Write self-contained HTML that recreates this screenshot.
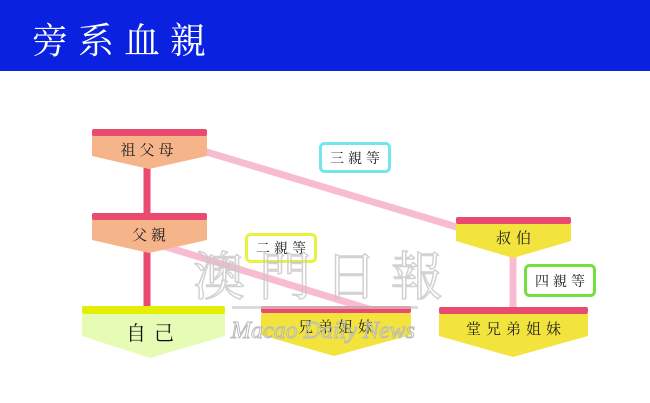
<!DOCTYPE html>
<html><head><meta charset="utf-8"><style>
html,body{margin:0;padding:0;width:650px;height:403px;overflow:hidden;background:#fff}
svg{display:block}
text{font-family:"Liberation Serif","Noto Serif CJK SC","Noto Sans CJK TC",serif}
</style></head><body>
<svg width="650" height="403" viewBox="0 0 650 403">
<rect x="0" y="0" width="650" height="71" fill="#0a22e0"/>
<text x="32" y="53" font-size="36" fill="#fff" letter-spacing="10">旁系血親</text>

<!-- connectors -->
<line x1="200" y1="150" x2="460" y2="228" stroke="#f8bcd2" stroke-width="7"/>
<line x1="160" y1="245" x2="372" y2="310" stroke="#f8bcd2" stroke-width="7"/>
<line x1="513" y1="255" x2="513" y2="308" stroke="#f8bcd2" stroke-width="7"/>
<line x1="147" y1="160" x2="147" y2="215" stroke="#e84a70" stroke-width="7"/>
<line x1="147" y1="245" x2="147" y2="308" stroke="#e84a70" stroke-width="7"/>

<!-- 祖父母 -->
<path d="M92,135 H207 V156 L149,169 L92,156 Z" fill="#f6b48a"/>
<rect x="92" y="129" width="115" height="7" rx="2" fill="#e84a70"/>
<text x="149" y="155" font-size="15" text-anchor="middle" fill="#222" letter-spacing="4">祖父母</text>

<!-- 父親 -->
<path d="M92,219 H207 V240 L149,253 L92,240 Z" fill="#f6b48a"/>
<rect x="92" y="213" width="115" height="7" rx="2" fill="#e84a70"/>
<text x="151" y="240" font-size="15" text-anchor="middle" fill="#222" letter-spacing="4">父親</text>

<!-- 自己 -->
<path d="M82,314 H225 V336 L150,358 L82,336 Z" fill="#e6fcb4"/>
<rect x="82" y="306" width="143" height="8" rx="2" fill="#e4ee00"/>
<text x="154" y="340" font-size="20" text-anchor="middle" fill="#111" letter-spacing="8">自己</text>

<!-- 兄弟姐妹 -->
<path d="M261,313 H411 V335 L334,356 L261,335 Z" fill="#f2e43c"/>
<rect x="261" y="306" width="150" height="7" rx="2" fill="#e84a70"/>
<text x="338" y="332" font-size="15" text-anchor="middle" fill="#222" letter-spacing="5">兄弟姐妹</text>

<!-- 叔伯 -->
<path d="M456,224 H571 V241 L513,258 L456,241 Z" fill="#f2e43c"/>
<rect x="456" y="217" width="115" height="7" rx="2" fill="#e84a70"/>
<text x="516" y="243" font-size="15" text-anchor="middle" fill="#222" letter-spacing="5">叔伯</text>

<!-- 堂兄弟姐妹 -->
<path d="M439,314 H588 V336 L513,357 L439,336 Z" fill="#f2e43c"/>
<rect x="439" y="307" width="149" height="7" rx="2" fill="#e84a70"/>
<text x="516" y="334" font-size="15" text-anchor="middle" fill="#222" letter-spacing="5">堂兄弟姐妹</text>

<!-- labels -->
<rect x="320.5" y="143.5" width="69" height="28" rx="4" fill="#fff" stroke="#72e6ea" stroke-width="3"/>
<text x="357" y="163" font-size="14" text-anchor="middle" fill="#222" letter-spacing="4">三親等</text>
<rect x="246.5" y="234.5" width="69" height="27" rx="4" fill="#fff" stroke="#eaf240" stroke-width="3"/>
<text x="283" y="253" font-size="14" text-anchor="middle" fill="#222" letter-spacing="4">二親等</text>
<rect x="525.5" y="265.5" width="69" height="30" rx="4" fill="#fff" stroke="#74e040" stroke-width="3"/>
<text x="562" y="286" font-size="14" text-anchor="middle" fill="#222" letter-spacing="4">四親等</text>

<!-- watermark -->
<text x="325" y="295" font-size="52" text-anchor="middle" fill="none" stroke="#c8c8c8" stroke-width="1.5" letter-spacing="14" opacity="0.8">澳門日報</text>
<rect x="232" y="306" width="186" height="3" fill="#ccc" opacity="0.7"/>
<text x="323" y="338" font-size="24" font-style="italic" text-anchor="middle" fill="none" stroke="#bbb" stroke-width="1" font-family="Liberation Sans,sans-serif">Macao Daily News</text>
</svg>
</body></html>
